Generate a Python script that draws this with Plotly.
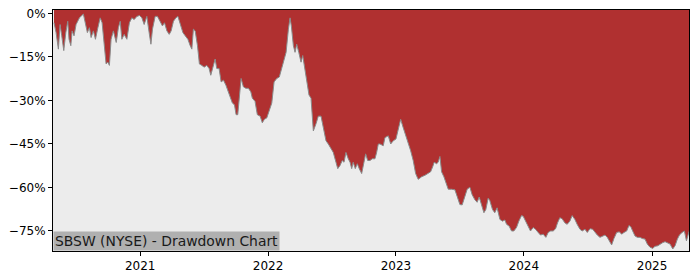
import pandas as pd
import plotly.graph_objects as go

# Decimal-year positions of the drawdown series
decimal_years = [
    2020.328, 2020.344, 2020.362, 2020.375, 2020.388, 2020.404, 2020.420, 2020.435, 2020.445, 2020.459,
    2020.469, 2020.484, 2020.500, 2020.526, 2020.557, 2020.573, 2020.588, 2020.604, 2020.617, 2020.635,
    2020.651, 2020.670, 2020.688, 2020.703, 2020.719, 2020.734, 2020.748, 2020.760, 2020.773, 2020.791,
    2020.813, 2020.830, 2020.844, 2020.857, 2020.875, 2020.896, 2020.916, 2020.935, 2020.953, 2020.974,
    2020.995, 2021.013, 2021.031, 2021.052, 2021.070, 2021.084, 2021.096, 2021.117, 2021.135, 2021.156,
    2021.174, 2021.190, 2021.209, 2021.227, 2021.242, 2021.260, 2021.279, 2021.295, 2021.313, 2021.334,
    2021.352, 2021.373, 2021.391, 2021.404, 2021.416, 2021.430, 2021.448, 2021.463, 2021.482, 2021.500,
    2021.521, 2021.539, 2021.552, 2021.568, 2021.586, 2021.599, 2021.617, 2021.633, 2021.651, 2021.670,
    2021.690, 2021.703, 2021.721, 2021.737, 2021.750, 2021.763, 2021.776, 2021.789, 2021.807, 2021.826,
    2021.846, 2021.865, 2021.877, 2021.898, 2021.916, 2021.938, 2021.955, 2021.971, 2021.990, 2022.010,
    2022.029, 2022.047, 2022.068, 2022.088, 2022.107, 2022.125, 2022.141, 2022.159, 2022.172, 2022.182,
    2022.198, 2022.211, 2022.224, 2022.240, 2022.258, 2022.271, 2022.284, 2022.302, 2022.320, 2022.336,
    2022.354, 2022.375, 2022.393, 2022.414, 2022.430, 2022.453, 2022.471, 2022.490, 2022.510, 2022.531,
    2022.545, 2022.563, 2022.580, 2022.594, 2022.609, 2022.627, 2022.641, 2022.654, 2022.666, 2022.682,
    2022.698, 2022.713, 2022.732, 2022.750, 2022.763, 2022.779, 2022.797, 2022.815, 2022.836, 2022.849,
    2022.862, 2022.875, 2022.901, 2022.914, 2022.940, 2022.959, 2022.979, 2023.000, 2023.018, 2023.037,
    2023.057, 2023.078, 2023.096, 2023.115, 2023.135, 2023.154, 2023.174, 2023.201, 2023.227, 2023.252,
    2023.271, 2023.287, 2023.299, 2023.318, 2023.330, 2023.344, 2023.357, 2023.375, 2023.391, 2023.409,
    2023.435, 2023.461, 2023.479, 2023.500, 2023.518, 2023.539, 2023.557, 2023.578, 2023.596, 2023.617,
    2023.635, 2023.651, 2023.670, 2023.688, 2023.703, 2023.721, 2023.734, 2023.755, 2023.773, 2023.791,
    2023.813, 2023.833, 2023.852, 2023.865, 2023.885, 2023.904, 2023.922, 2023.943, 2023.961, 2023.982,
    2023.995, 2024.016, 2024.034, 2024.052, 2024.073, 2024.091, 2024.112, 2024.130, 2024.151, 2024.172,
    2024.190, 2024.209, 2024.229, 2024.248, 2024.263, 2024.281, 2024.299, 2024.320, 2024.338, 2024.359,
    2024.377, 2024.398, 2024.416, 2024.438, 2024.455, 2024.477, 2024.495, 2024.516, 2024.537, 2024.555,
    2024.573, 2024.594, 2024.612, 2024.633, 2024.651, 2024.666, 2024.685, 2024.703, 2024.724, 2024.745,
    2024.763, 2024.781, 2024.802, 2024.820, 2024.834, 2024.849, 2024.867, 2024.885, 2024.906, 2024.924,
    2024.945, 2024.963, 2024.984, 2025.005, 2025.023, 2025.045, 2025.063, 2025.084, 2025.102, 2025.120,
    2025.141, 2025.162, 2025.180, 2025.198, 2025.214, 2025.235, 2025.253, 2025.269, 2025.288, 2025.296,
]

# Drawdown in percent
drawdown_pct = [
    -3.2, -6.6, -12.3, -3.8, -7.7, -12.8, -6.6, -2.7, -8.9, -11.1,
    -6.0, -7.7, -3.8, -1.5, -0.2, -3.2, -6.6, -4.9, -8.3, -6.0,
    -8.9, -4.9, -1.5, -3.2, -10.0, -17.4, -16.8, -17.9, -8.9, -6.0,
    -10.0, -4.9, -2.7, -8.9, -7.2, -8.9, -3.2, -1.5, -2.1, -1.0,
    -0.7, -1.5, -3.8, -1.0, -6.6, -10.6, -5.4, -1.0, -1.0, -2.7,
    -4.3, -3.2, -6.0, -7.2, -6.0, -2.7, -1.5, -1.0, -3.8, -6.6,
    -7.7, -8.9, -11.1, -12.3, -5.4, -6.0, -11.1, -17.4, -17.9, -18.5,
    -17.9, -19.0, -21.3, -18.5, -15.7, -19.0, -19.0, -23.6, -23.0, -24.7,
    -27.0, -29.2, -30.9, -31.5, -34.9, -34.9, -28.1, -22.4, -25.3, -25.8,
    -25.8, -27.0, -29.2, -30.3, -34.9, -35.4, -37.7, -36.5, -36.0, -33.7,
    -30.9, -23.6, -22.4, -21.9, -19.0, -16.2, -13.4, -5.4, -1.5, -4.3,
    -11.1, -13.4, -10.6, -13.4, -16.8, -14.5, -17.9, -23.6, -28.1, -29.2,
    -40.5, -38.0, -35.4, -35.4, -38.5, -43.9, -45.0, -46.7, -47.9, -51.3,
    -53.5, -52.4, -50.7, -51.3, -47.9, -50.1, -51.3, -53.5, -51.3, -53.5,
    -51.8, -53.5, -55.2, -51.3, -48.4, -50.7, -50.7, -50.1, -50.1, -47.9,
    -45.0, -45.0, -45.6, -42.8, -42.2, -45.0, -43.9, -43.3, -39.4, -36.5,
    -39.4, -42.2, -45.0, -47.3, -50.7, -55.2, -57.2, -56.3, -55.8, -55.0,
    -54.6, -52.9, -51.3, -51.8, -51.3, -49.3, -54.6, -56.3, -58.6, -60.6,
    -60.6, -60.8, -63.1, -65.9, -66.0, -63.1, -60.6, -59.9, -62.5, -64.2,
    -65.1, -63.3, -65.9, -68.7, -67.6, -63.7, -64.5, -67.6, -68.7, -67.0,
    -71.0, -71.6, -71.2, -72.7, -73.3, -75.0, -75.0, -73.8, -71.6, -69.7,
    -69.9, -71.6, -73.3, -75.0, -73.8, -74.4, -75.5, -76.4, -76.1, -77.2,
    -75.5, -75.0, -75.0, -74.2, -72.2, -70.4, -70.8, -72.2, -72.7, -71.6,
    -69.7, -71.0, -72.7, -74.4, -75.0, -74.4, -75.5, -74.2, -74.4, -75.5,
    -76.4, -77.2, -76.7, -76.4, -77.2, -78.4, -79.8, -77.6, -75.5, -75.3,
    -76.1, -75.5, -75.0, -73.1, -73.5, -75.0, -76.7, -77.2, -77.2, -77.6,
    -77.8, -79.5, -80.6, -81.0, -80.3, -80.1, -79.5, -79.0, -78.7, -79.0,
    -79.5, -81.2, -80.1, -77.8, -76.4, -75.5, -75.0, -78.4, -75.5, -74.2,
]

y_ticks = [0, -15, -30, -45, -60, -75]
y_tick_labels = ["0%", "\u221215%", "\u221230%", "\u221245%", "\u221260%", "\u221275%"]
x_tick_years = [2021, 2022, 2023, 2024, 2025]
x_range_years = [2020.320, 2025.289]
y_range = [-81.9, 1.2]
title_text = "SBSW (NYSE) - Drawdown Chart"


def to_date(d):
    yr = int(d)
    start = pd.Timestamp(year=yr, month=1, day=1)
    end = pd.Timestamp(year=yr + 1, month=1, day=1)
    return start + (d - yr) * (end - start)


dates = [to_date(d) for d in decimal_years]
top = [y_range[1]] * len(dates)

fig = go.Figure()
fig.add_trace(go.Scatter(x=dates, y=drawdown_pct, mode="lines",
                         line=dict(width=0, color="rgba(0,0,0,0)"),
                         hoverinfo="skip", showlegend=False))
fig.add_trace(go.Scatter(x=dates, y=top, mode="lines", fill="tonexty",
                         fillcolor="#b03030", line=dict(width=0, color="#b03030"),
                         showlegend=False))
fig.add_trace(go.Scatter(x=dates, y=drawdown_pct, mode="lines",
                         line=dict(width=1, color="#8a8a8a"),
                         showlegend=False))

fig.update_layout(
    width=700, height=280,
    margin=dict(l=53, r=11, t=7, b=28),
    paper_bgcolor="white",
    plot_bgcolor="#ececec",
    font=dict(family="DejaVu Sans", size=12, color="black"),
    showlegend=False,
    xaxis=dict(
        type="date",
        range=[to_date(x_range_years[0]), to_date(x_range_years[1])],
        tickvals=[pd.Timestamp(year=y, month=1, day=1) for y in x_tick_years],
        ticktext=[str(y) for y in x_tick_years],
        showgrid=False, zeroline=False,
        showline=True, linecolor="black", linewidth=1, mirror=True,
        ticks="outside", ticklen=4, tickcolor="black",
        tickfont=dict(size=12),
    ),
    yaxis=dict(
        range=y_range,
        tickvals=y_ticks, ticktext=y_tick_labels,
        showgrid=False, zeroline=False,
        showline=True, linecolor="black", linewidth=1, mirror=True,
        ticks="outside", ticklen=4, tickcolor="black",
        tickfont=dict(size=12),
    ),
    annotations=[dict(
        text=title_text, xref="paper", yref="paper", x=0, y=0,
        xanchor="left", yanchor="bottom", showarrow=False,
        font=dict(family="DejaVu Sans", size=13.9, color="#1a1a1a"),
        bgcolor="#b0b0b0", borderpad=1,
    )],
)

fig.write_html("out.html")
